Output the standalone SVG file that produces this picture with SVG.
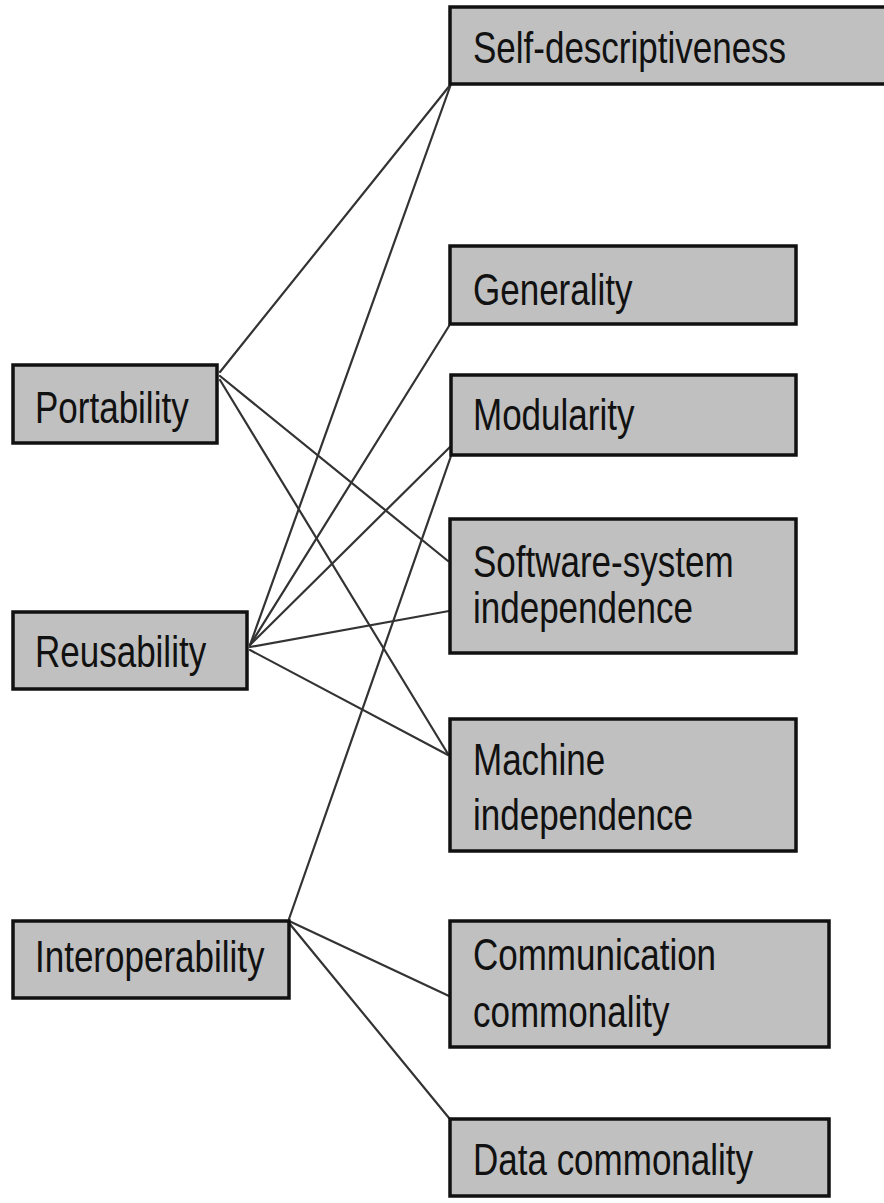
<svg xmlns="http://www.w3.org/2000/svg" width="884" height="1203" viewBox="0 0 884 1203">
<style>
.box{fill:#c0c0c0;stroke:#111;stroke-width:3.5}
.lbl{font-family:"Liberation Sans",Arial,sans-serif;font-size:35px;fill:#111}
.con line{stroke:#333;stroke-width:2.2;stroke-linecap:round}
</style>
<rect width="884" height="1203" fill="#fff"/>
<g id="connectors" class="con">
<line x1="220" y1="372" x2="451" y2="84"/>
<line x1="220" y1="376" x2="448" y2="561"/>
<line x1="220" y1="380" x2="448" y2="754"/>
<line x1="250" y1="645" x2="451" y2="84"/>
<line x1="250" y1="645" x2="449" y2="326"/>
<line x1="250" y1="645" x2="451" y2="446"/>
<line x1="250" y1="647" x2="449" y2="611"/>
<line x1="250" y1="650" x2="448" y2="755"/>
<line x1="289" y1="919" x2="451" y2="456"/>
<line x1="289" y1="921" x2="449" y2="996"/>
<line x1="289" y1="923" x2="449" y2="1118"/>
</g>
<g id="self-descriptiveness"><rect class="box" x="450" y="7" width="440" height="77"/><text class="lbl" transform="translate(473,63) scale(1,1.28)">Self-descriptiveness</text></g>
<g id="generality"><rect class="box" x="450" y="246" width="346" height="78"/><text class="lbl" transform="translate(473,305) scale(1,1.28)">Generality</text></g>
<g id="modularity"><rect class="box" x="451" y="375" width="345" height="80"/><text class="lbl" transform="translate(473,430) scale(1,1.28)">Modularity</text></g>
<g id="software-system-independence"><rect class="box" x="450" y="519" width="346" height="134"/><text class="lbl" transform="translate(473,577) scale(1,1.28)">Software-system</text><text class="lbl" transform="translate(473,623) scale(1,1.28)">independence</text></g>
<g id="machine-independence"><rect class="box" x="450" y="719" width="346" height="132"/><text class="lbl" transform="translate(473,775) scale(1,1.28)">Machine</text><text class="lbl" transform="translate(473,830) scale(1,1.28)">independence</text></g>
<g id="communication-commonality"><rect class="box" x="450" y="921" width="379" height="126"/><text class="lbl" transform="translate(473,970) scale(1,1.28)">Communication</text><text class="lbl" transform="translate(473,1027) scale(1,1.28)">commonality</text></g>
<g id="data-commonality"><rect class="box" x="450" y="1119" width="379" height="77"/><text class="lbl" transform="translate(473,1175) scale(1,1.28)">Data commonality</text></g>
<g id="portability"><rect class="box" x="13" y="365" width="204" height="78"/><text class="lbl" transform="translate(35,423) scale(1,1.28)">Portability</text></g>
<g id="reusability"><rect class="box" x="13" y="612" width="234" height="77"/><text class="lbl" transform="translate(35,667) scale(1,1.28)">Reusability</text></g>
<g id="interoperability"><rect class="box" x="13" y="921" width="276" height="77"/><text class="lbl" transform="translate(35,972) scale(1,1.28)">Interoperability</text></g>
</svg>
